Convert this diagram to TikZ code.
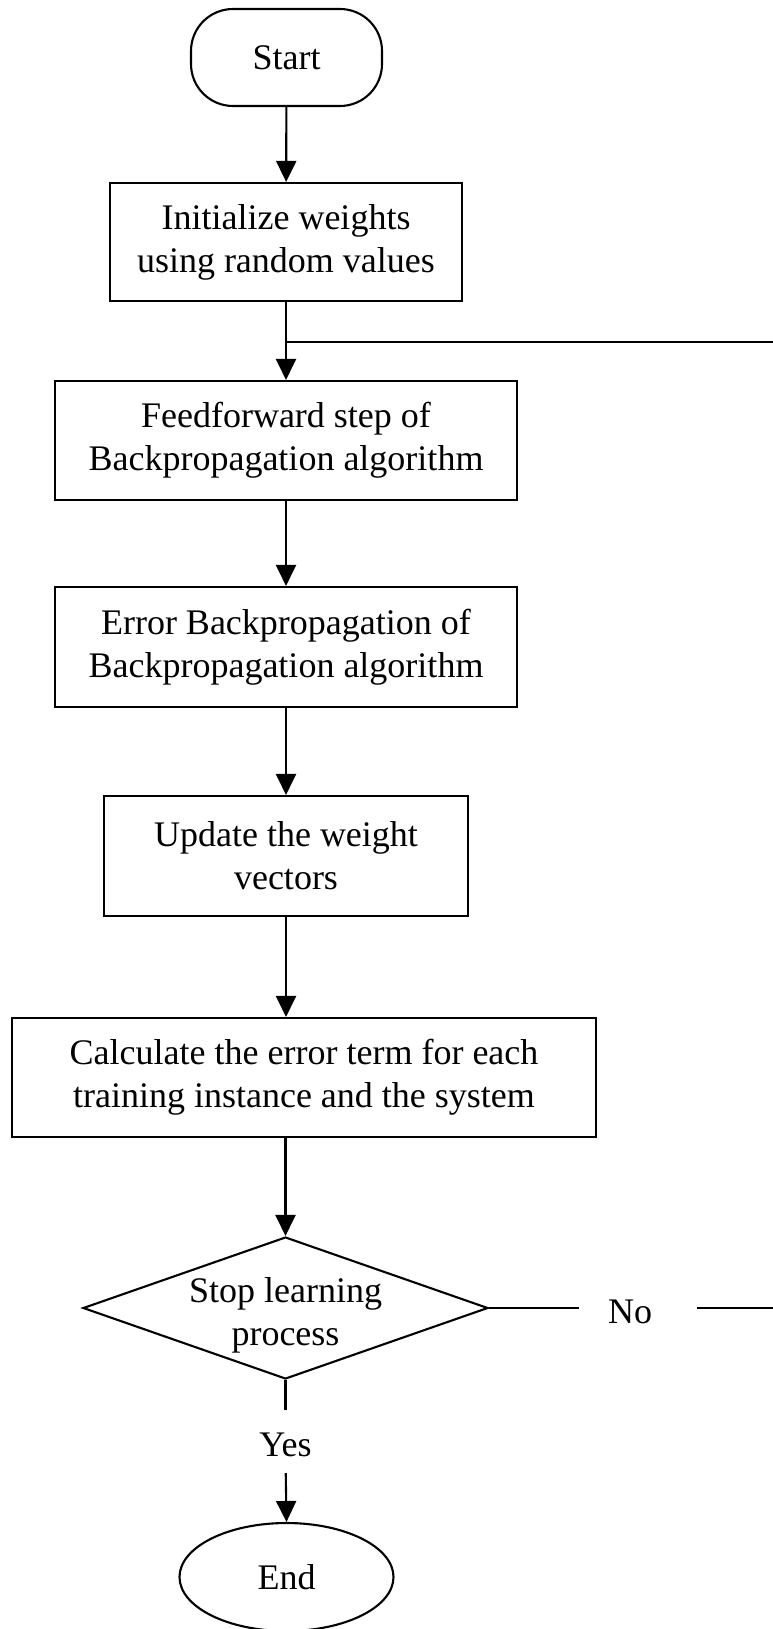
\documentclass[tikz,border=0pt]{standalone}
\usepackage{fontspec}
\setmainfont{Liberation Serif}
\usetikzlibrary{shapes.geometric,arrows.meta}
\newcommand\flowfont{\fontsize{36}{43}\selectfont}
\begin{document}
\begin{tikzpicture}[x=1pt,y=-1pt,
  every node/.style={font=\flowfont},
  box/.style={draw,line width=2.1pt,inner sep=0pt,align=center},
  term/.style={box,rounded corners=42pt},
  ell/.style={draw,ellipse,line width=2.1pt,inner sep=0pt},
  dia/.style={draw,diamond,line width=2.1pt,inner sep=0pt},
  txt/.style={inner sep=0pt,align=center},
  conn/.style={line width=2.1pt},
  arr/.style={conn,-{Triangle[length=21pt,width=20pt]}}]
\useasboundingbox (0,0) rectangle (773,1629);
\node[term,minimum width=191,minimum height=97] (start) at (286.5,57.5) {Start};
\node[box,minimum width=352,minimum height=118] (init) at (286,242) {Initialize weights\\using random values};
\node[box,minimum width=462,minimum height=119] (ff) at (286,440.5) {Feedforward step of\\Backpropagation algorithm};
\node[box,minimum width=462,minimum height=120] (eb) at (286,647) {Error Backpropagation of\\Backpropagation algorithm};
\node[box,minimum width=364,minimum height=120] (upd) at (286,856) {Update the weight\\vectors};
\node[box,minimum width=584,minimum height=119] (calc) at (304,1077.5) {Calculate the error term for each\\training instance and the system};
\node[dia,minimum width=405,minimum height=142] (dec) at (285.5,1308) {};
\node[txt] (dect) at (285.5,1315) {Stop learning\\process};
\node[txt] (no) at (630,1312) {No};
\node[txt] (yes) at (285.5,1445) {Yes};
\node[ell,minimum width=214,minimum height=108] (end) at (286.5,1577) {End};
\coordinate (fbr) at (776,1308);
\coordinate (fbt) at (776,342);
\coordinate (join) at (286,342);
\draw[arr] (start) -- (init);
\draw[arr] (init) -- (ff);
\draw[arr] (ff) -- (eb);
\draw[arr] (eb) -- (upd);
\draw[arr] (upd.south) -- (upd.south |- calc.north);
\draw[arr] (dec.north |- calc.south) -- (dec.north);
\draw[conn,shorten >=23pt] (dec.south) -- (yes.north);
\draw[arr,shorten <=16pt] (yes.south) -- (end.north);
\draw[conn,shorten >=29pt] (dec.east) -- (dec.east -| no.west);
\draw[conn,shorten <=45pt] (no.east |- fbr) -- (fbr) -- (fbt) -- (join);
\end{tikzpicture}
\end{document}
